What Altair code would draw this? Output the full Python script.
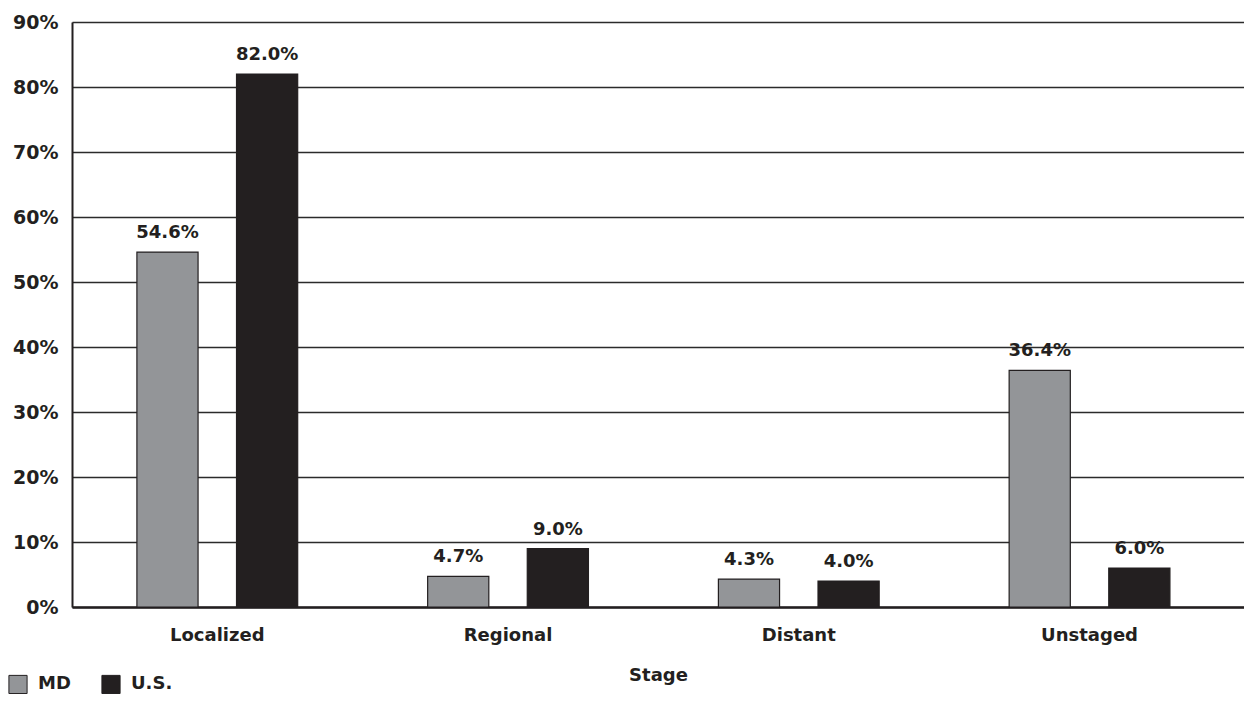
import altair as alt
import pandas as pd

stages = ["Localized", "Regional", "Distant", "Unstaged"]
md_values = [54.6, 4.7, 4.3, 36.4]
us_values = [82.0, 9.0, 4.0, 6.0]
groups = ["MD", "U.S."]
colors = ["#939598", "#231f20"]

rows = []
for s, m, u in zip(stages, md_values, us_values):
    rows.append({"Stage": s, "Group": "MD", "Value": m, "Label": f"{m:.1f}%"})
    rows.append({"Stage": s, "Group": "U.S.", "Value": u, "Label": f"{u:.1f}%"})
df = pd.DataFrame(rows)

FONT = "DejaVu Sans"

x = alt.X("Stage:N", sort=stages, title="Stage",
          scale=alt.Scale(paddingInner=0.447, paddingOuter=0.239, align=0.467),
          axis=alt.Axis(labelAngle=0, labelFont=FONT, labelFontWeight="bold", labelFontSize=18,
                        labelColor="#231f20", labelPadding=19, ticks=False,
                        domainColor="#231f20", domainWidth=2.5,
                        titleFont=FONT, titleFontWeight="bold", titleFontSize=18,
                        titleColor="#231f20", titlePadding=22))
xo = alt.XOffset("Group:N", sort=groups, scale=alt.Scale(paddingInner=0.386, paddingOuter=0))
y = alt.Y("Value:Q", title=None,
          scale=alt.Scale(domain=[0, 90], nice=False),
          axis=alt.Axis(values=list(range(0, 91, 10)), labelExpr="datum.value + '%'",
                        labelFont=FONT, labelFontWeight="bold", labelFontSize=19,
                        labelColor="#231f20", labelPadding=14, ticks=False,
                        domainColor="#231f20", domainWidth=2,
                        grid=True, gridColor="#2b2b2b", gridWidth=1.3))

bars = alt.Chart(df).mark_bar(stroke="#231f20", strokeWidth=1.2).encode(
    x=x, xOffset=xo, y=y,
    color=alt.Color("Group:N", sort=groups, scale=alt.Scale(domain=groups, range=colors),
                    legend=alt.Legend(title=None, orient="none", legendX=-64, legendY=652,
                                      direction="horizontal", symbolType="square",
                                      symbolSize=330, symbolStrokeColor="#231f20",
                                      symbolStrokeWidth=1, symbolOpacity=1,
                                      labelFont=FONT, labelFontWeight="bold", labelFontSize=18,
                                      labelColor="#231f20", columnPadding=28, labelOffset=10))
)

text = alt.Chart(df).mark_text(font=FONT, fontWeight="bold", fontSize=18, color="#231f20",
                               baseline="bottom", dy=-10).encode(
    x=alt.X("Stage:N", sort=stages), xOffset=alt.XOffset("Group:N", sort=groups),
    y=alt.Y("Value:Q"), text="Label:N"
)

chart = alt.layer(bars, text).properties(
    width=1172, height=585,
    autosize=alt.AutoSizeParams(type="none"),
    padding={"left": 64, "top": 14, "right": 0, "bottom": 87},
).configure_view(stroke=None).configure(background="white")

chart.save("out.html", embed_options={"renderer": "svg", "actions": False})
